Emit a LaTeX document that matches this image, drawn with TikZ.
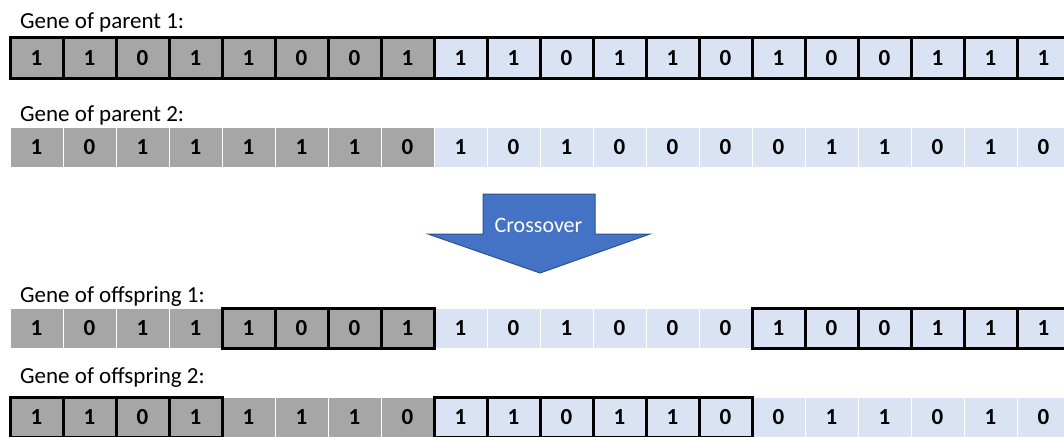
\documentclass[tikz,border=0pt]{standalone}
\usepackage{fontspec}
\setmainfont{Carlito}
\definecolor{headgray}{HTML}{A6A6A6}
\definecolor{tailblue}{HTML}{DAE3F3}
\definecolor{arrowblue}{HTML}{4472C4}
\definecolor{arrowedge}{HTML}{2F528F}

% one chromosome row: #1 row id, #2 centre y, #3 the 20 bits
\newcommand\chromrow[3]{%
  \foreach \v [count=\i] in {#3} {%
    \ifnum\i<9 \def\cellfill{headgray}\else\def\cellfill{tailblue}\fi
    \node[bitcell, fill=\cellfill] (c#1-\i) at ({53*\i-16.5}, #2) {\v};
  }%
}
% thick black frame round a range of cells of one row
\newcommand\frameCells[3]{%
  \foreach \i in {#2,...,#3} {%
    \draw[cellframe] (c#1-\i.north west) rectangle (c#1-\i.south east);
  }%
}

\begin{document}
\begin{tikzpicture}[x=1pt, y=-1pt,
  bitcell/.style={minimum width=53pt, minimum height=40pt, inner sep=0pt,
    outer sep=0pt, draw=white, line width=1pt,
    font=\fontsize{23}{23}\selectfont\bfseries},
  cellframe/.style={draw=black, line width=3pt, line join=miter},
  rowlabel/.style={anchor=base west, inner sep=0pt,
    font=\fontsize{23}{23}\selectfont},
  bigarrow/.style={fill=arrowblue, draw=arrowedge, line width=1pt, line join=miter}]

\useasboundingbox (0,0) rectangle (1064,436);
\clip (0,0) rectangle (1064,436);

% parent 1
\node[rowlabel] (lab1) at (20,29) {Gene of parent 1:};
\chromrow{1}{58}{1,1,0,1,1,0,0,1,1,1,0,1,1,0,1,0,0,1,1,1}
\frameCells{1}{1}{20}

% parent 2
\node[rowlabel] (lab2) at (20,121) {Gene of parent 2:};
\chromrow{2}{147.5}{1,0,1,1,1,1,1,0,1,0,1,0,0,0,0,1,1,0,1,0}

% crossover arrow
\draw[bigarrow] (483,194) -- (595,194) -- (595,234) -- (650,234) -- (540,273)
  -- (428,234) -- (483,234) -- cycle;
\node[text=white, inner sep=0pt, font=\fontsize{22}{22}\selectfont]
  (xover) at (538.5,225) {Crossover};

% offspring 1
\node[rowlabel] (lab3) at (20,302) {Gene of offspring 1:};
\chromrow{3}{328.5}{1,0,1,1,1,0,0,1,1,0,1,0,0,0,1,0,0,1,1,1}
\frameCells{3}{5}{8}
\frameCells{3}{15}{20}

% offspring 2
\node[rowlabel] (lab4) at (20,383) {Gene of offspring 2:};
\chromrow{4}{417}{1,1,0,1,1,1,1,0,1,1,0,1,1,0,0,1,1,0,1,0}
\frameCells{4}{1}{4}
\frameCells{4}{9}{14}

\end{tikzpicture}
\end{document}
